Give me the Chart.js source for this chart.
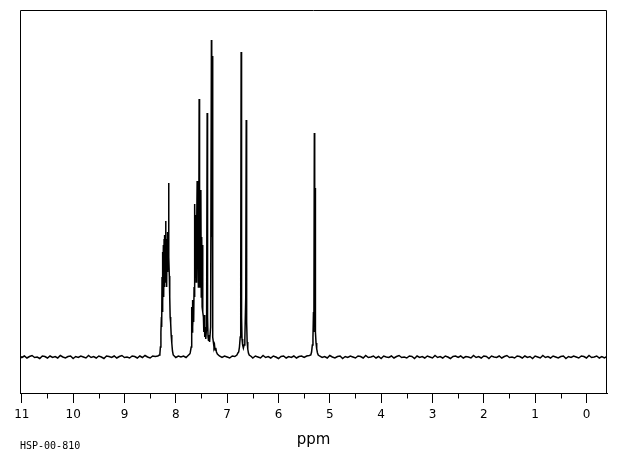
<!DOCTYPE html>
<html>
<head>
<meta charset="utf-8">
<script src="https://cdn.jsdelivr.net/npm/chart.js@4.4.1/dist/chart.umd.min.js"></script>
<style>
  html, body { margin: 0; padding: 0; background: #fff; }
  canvas { display: block; }
</style>
</head>
<body>
<canvas id="nmr" width="620" height="455"></canvas>
<script>
// 1H NMR trace, [ppm, intensity] pairs (intensity: px above baseline)
const baselineA = [
  [11.03, 0.5], [11.00, -0.5], [10.95, 1], [10.90, -1], [10.85, 0.5], [10.80, 1.5], [10.75, -0.5],
  [10.70, 0], [10.65, -1.5], [10.60, 1], [10.55, 0.5], [10.50, -1], [10.45, 1], [10.40, -0.5],
  [10.35, 0.5], [10.30, -1], [10.25, 1.5], [10.20, 0], [10.15, -1], [10.10, 0.5], [10.05, 1],
  [10.00, -1.5], [9.95, 0.5], [9.90, -0.5], [9.85, 1], [9.80, 0], [9.75, -1], [9.70, 1.5],
  [9.65, -0.5], [9.60, 0.5], [9.55, -1], [9.50, 1], [9.45, 0], [9.40, -1.5], [9.35, 1],
  [9.30, 0.5], [9.25, -0.5], [9.20, 1], [9.15, -1], [9.10, 0.5], [9.05, 1.5], [9.00, -0.5],
  [8.95, 0], [8.90, -1], [8.85, 1], [8.80, 0.5], [8.75, -1], [8.70, 1], [8.65, -0.5],
  [8.60, 1.5], [8.55, 0], [8.50, -1], [8.45, 1], [8.40, 0.5], [8.35, 1], [8.32, 2]
];
const cluster82 = [
  [8.310, 3], [8.300, 10], [8.290, 25], [8.280, 40], [8.275, 30], [8.268, 80], [8.262, 45],
  [8.256, 105], [8.250, 55], [8.242, 112], [8.236, 60], [8.228, 118], [8.222, 70], [8.214, 122],
  [8.208, 75], [8.198, 136], [8.192, 80], [8.184, 110], [8.178, 70], [8.170, 118], [8.163, 85],
  [8.156, 125], [8.148, 90], [8.140, 174], [8.134, 100], [8.126, 81], [8.118, 60], [8.110, 40],
  [8.100, 34], [8.090, 22], [8.078, 14], [8.065, 6], [8.050, 2]
];
const baselineB = [
  [8.03, 1], [8.00, -0.5], [7.95, 1], [7.90, 0], [7.85, 1], [7.80, -0.5], [7.76, 1.5], [7.73, 3]
];
const cluster75 = [
  [7.720, 4], [7.700, 10], [7.690, 50], [7.684, 25], [7.676, 57], [7.668, 30], [7.660, 45],
  [7.652, 35], [7.644, 70], [7.636, 60], [7.629, 153], [7.622, 80], [7.610, 142], [7.602, 75],
  [7.595, 120], [7.584, 176], [7.576, 90], [7.568, 110], [7.560, 70], [7.553, 100], [7.545, 258],
  [7.537, 85], [7.526, 70], [7.512, 167], [7.504, 60], [7.495, 120], [7.487, 50], [7.479, 112],
  [7.471, 45], [7.462, 40], [7.454, 25], [7.444, 42], [7.436, 20], [7.426, 30], [7.416, 18],
  [7.400, 30], [7.389, 244], [7.381, 40], [7.372, 20], [7.362, 16], [7.352, 22], [7.342, 15],
  [7.322, 30], [7.306, 317], [7.300, 120], [7.293, 301], [7.286, 40], [7.276, 20], [7.266, 14],
  [7.256, 10], [7.246, 12], [7.236, 7], [7.222, 9], [7.208, 5], [7.190, 3], [7.160, 1.5]
];
const baselineC = [
  [7.15, 1], [7.10, -0.5], [7.05, 1], [7.00, 0], [6.95, -1], [6.90, 1], [6.85, 0.5], [6.81, 2], [6.79, 4]
];
const doublet67 = [
  [6.775, 5], [6.760, 10], [6.745, 20], [6.735, 78], [6.727, 305], [6.719, 40], [6.710, 18],
  [6.698, 12], [6.684, 9], [6.670, 12], [6.655, 18], [6.637, 60], [6.628, 237], [6.620, 35],
  [6.610, 15], [6.598, 8], [6.585, 4]
];
const baselineD = [
  [6.57, 2], [6.53, 0.5], [6.50, -1], [6.45, 1], [6.40, 0], [6.35, -1], [6.30, 1.5], [6.25, -0.5],
  [6.20, 0.5], [6.15, -1], [6.10, 1], [6.05, 0], [6.00, -1.5], [5.95, 0.5], [5.90, 1], [5.85, -1],
  [5.80, 0.5], [5.75, -0.5], [5.70, 1], [5.65, -1], [5.60, 0.5], [5.55, 1], [5.50, -0.5],
  [5.45, 1], [5.40, 1.5]
];
const singlet53 = [
  [5.370, 2], [5.355, 5], [5.340, 12], [5.328, 20], [5.318, 45], [5.310, 25], [5.301, 224],
  [5.294, 60], [5.287, 169], [5.280, 25], [5.268, 14], [5.255, 8], [5.240, 4], [5.225, 2]
];
const baselineE = [
  [5.20, 1], [5.15, -0.5], [5.10, 0.5], [5.05, -1], [5.00, 1.5], [4.95, 0], [4.90, -1], [4.85, 0.5],
  [4.80, 1], [4.75, -1.5], [4.70, 0.5], [4.65, -0.5], [4.60, 1], [4.55, 0], [4.50, -1], [4.45, 1],
  [4.40, 0.5], [4.35, -1], [4.30, 1.5], [4.25, -0.5], [4.20, 0], [4.15, 1], [4.10, -1], [4.05, 0.5],
  [4.00, -1.5], [3.95, 1], [3.90, 0], [3.85, -0.5], [3.80, 1], [3.75, -1], [3.70, 0.5], [3.65, 1.5],
  [3.60, -0.5], [3.55, 0], [3.50, -1], [3.45, 1], [3.40, 0.5], [3.35, -1.5], [3.30, 1], [3.25, -0.5],
  [3.20, 0.5], [3.15, -1], [3.10, 1], [3.05, 0], [3.00, -1], [2.95, 1.5], [2.90, -0.5], [2.85, 0.5],
  [2.80, -1], [2.75, 1], [2.70, 0], [2.65, -1.5], [2.60, 0.5], [2.55, 1], [2.50, -0.5], [2.45, 1],
  [2.40, -1], [2.35, 0.5], [2.30, 0], [2.25, -1], [2.20, 1.5], [2.15, -0.5], [2.10, 0.5], [2.05, -1],
  [2.00, 1], [1.95, 0.5], [1.90, -1.5], [1.85, 1], [1.80, 0], [1.75, -0.5], [1.70, 1], [1.65, -1],
  [1.60, 0.5], [1.55, 1.5], [1.50, -0.5], [1.45, 0], [1.40, -1], [1.35, 1], [1.30, 0.5], [1.25, -1],
  [1.20, 1], [1.15, -0.5], [1.10, 0.5], [1.05, -1.5], [1.00, 1], [0.95, 0], [0.90, -1], [0.85, 1.5],
  [0.80, -0.5], [0.75, 0.5], [0.70, -1], [0.65, 1], [0.60, 0], [0.55, -1], [0.50, 0.5], [0.45, 1],
  [0.40, -1.5], [0.35, 0.5], [0.30, -0.5], [0.25, 1], [0.20, 0], [0.15, -1], [0.10, 1], [0.05, 0.5],
  [0.00, -1], [-0.05, 1.5], [-0.10, -0.5], [-0.15, 0], [-0.20, 1], [-0.25, -1], [-0.30, 0.5],
  [-0.35, -1], [-0.40, 0.5]
];

const majorTicks = [11, 10, 9, 8, 7, 6, 5, 4, 3, 2, 1, 0];
const minorTicks = [10.5, 9.5, 8.5, 7.5, 6.5, 5.5, 4.5, 3.5, 2.5, 1.5, 0.5];
const axisTitle = 'ppm';
const sampleId = 'HSP-00-810';

const trace = [].concat(baselineA, cluster82, baselineB, cluster75, baselineC,
                        doublet67, baselineD, singlet53, baselineE);

// frame, minor ticks and the sample code under the axis
const framePlugin = {
    id: 'framePlugin',
    afterDraw(chart) {
        const { ctx, chartArea } = chart;
        const xScale = chart.scales.x;
        const l = Math.round(chartArea.left) + 0.5;
        const r = Math.round(chartArea.right) - 0.5;
        const t = Math.round(chartArea.top) + 0.5;
        const b = Math.round(chartArea.bottom) + 0.5;
        ctx.save();
        ctx.strokeStyle = '#000';
        ctx.lineWidth = 1;
        ctx.beginPath();
        ctx.moveTo(l, b);
        ctx.lineTo(l, t);
        ctx.lineTo(r, t);
        ctx.lineTo(r, b);
        minorTicks.forEach(v => {
            const px = Math.round(xScale.getPixelForValue(v)) + 0.5;
            ctx.moveTo(px, b);
            ctx.lineTo(px, b + 5);
        });
        ctx.stroke();

        ctx.fillStyle = '#000';
        ctx.font = '10px "DejaVu Sans Mono"';
        ctx.textBaseline = 'alphabetic';
        ctx.textAlign = 'left';
        ctx.fillText(sampleId, 20, 449);
        ctx.restore();
    }
};

new Chart(document.getElementById('nmr').getContext('2d'), {
    type: 'line',
    data: {
        datasets: [{
            label: '1H NMR',
            data: trace.map(p => ({ x: p[0], y: p[1] })),
            borderColor: '#000',
            borderWidth: 1.5,
            pointRadius: 0,
            tension: 0,
            fill: false
        }]
    },
    options: {
        responsive: false,
        animation: false,
        devicePixelRatio: 1,
        layout: {
            padding: { left: 20, right: 13, top: 10, bottom: 0 }
        },
        plugins: {
            legend: { display: false },
            tooltip: { enabled: false }
        },
        scales: {
            x: {
                type: 'linear',
                reverse: true,
                min: -0.4,
                max: 11.035,
                afterBuildTicks: scale => {
                    scale.ticks = majorTicks.map(v => ({ value: v }));
                },
                afterFit: scale => {
                    scale.height = 62;
                },
                grid: {
                    drawOnChartArea: false,
                    drawTicks: true,
                    tickLength: 10,
                    color: '#000',
                    tickColor: '#000'
                },
                border: {
                    display: true,
                    color: '#000',
                    width: 1
                },
                ticks: {
                    color: '#000',
                    autoSkip: false,
                    maxRotation: 0,
                    padding: 5,
                    font: { family: 'DejaVu Sans', size: 12 },
                    callback: value => String(value)
                },
                title: {
                    display: true,
                    text: axisTitle,
                    color: '#000',
                    font: { family: 'DejaVu Sans', size: 15 },
                    padding: { top: 0, bottom: 5.5 }
                }
            },
            y: {
                display: false,
                min: -36,
                max: 347
            }
        }
    },
    plugins: [framePlugin]
});
</script>
</body>
</html>
